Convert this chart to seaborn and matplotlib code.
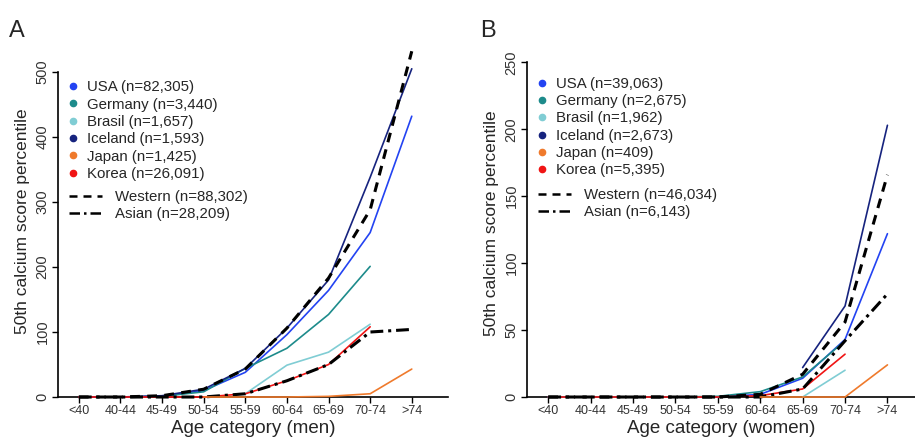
"""Median calcium score by age category, men vs women, by country."""

import numpy as np
import pandas as pd
import matplotlib
matplotlib.use("Agg")
import matplotlib.pyplot as plt
from matplotlib.lines import Line2D
import seaborn as sns

ages = ["<40", "40-44", "45-49", "50-54", "55-59", "60-64", "65-69", "70-74", ">74"]
nan = np.nan

# Panel A: men
men_usa = [0, 0, 1, 10, 38, 96, 164, 253, 432]
men_germany = [0, 0, 1, 8, 44, 75, 127, 201, nan]
men_brasil = [nan, nan, nan, nan, 5, 49, 69, 112, nan]
men_iceland = [0, 0, 2, 12, 44, 106, 180, 338, 505]
men_japan = [nan, nan, nan, 0, 0, 0, 1, 5, 43]
men_korea = [0, 0, 0, 0, 5, 25, 50, 108, nan]
men_western = [0, 0, 2, 12, 43, 106, 183, 288, 532]
men_asian = [0, 0, 0, 0, 5, 25, 50, 100, 104]
men_n = {"USA": "82,305", "Germany": "3,440", "Brasil": "1,657", "Iceland": "1,593",
         "Japan": "1,425", "Korea": "26,091", "Western": "88,302", "Asian": "28,209"}

# Panel B: women
women_usa = [0, 0, 0, 0, 0, 2, 14, 43, 122]
women_germany = [0, 0, 0, 0, 0.5, 4, 15, 42, nan]
women_brasil = [nan, nan, nan, nan, nan, nan, 0, 20, nan]
women_iceland = [nan, nan, nan, nan, nan, nan, 22, 68, 203]
women_japan = [nan, nan, nan, nan, nan, 0, 0, 0, 24]
women_korea = [0, 0, 0, 0, 0, 1, 6, 32, nan]
women_western = [0, 0, 0, 0, 0, 2, 17, 56, 166]
women_asian = [0, 0, 0, 0, 0, 0, 6, 42, 77]
women_n = {"USA": "39,063", "Germany": "2,675", "Brasil": "1,962", "Iceland": "2,673",
           "Japan": "409", "Korea": "5,395", "Western": "46,034", "Asian": "6,143"}

countries = ["USA", "Germany", "Brasil", "Iceland", "Japan", "Korea"]
colors = {"USA": "#2343f2", "Germany": "#1d8b8b", "Brasil": "#80cdd4",
          "Iceland": "#16237e", "Japan": "#ef7a2c", "Korea": "#f01414"}
groups = {"Western": (0, (3.2, 2.4)), "Asian": (0, (4.2, 1.6, 1.0, 1.6))}
# Japan sits on top of the zero lines in the original
draw_order = ["USA", "Germany", "Brasil", "Iceland", "Korea", "Western", "Asian", "Japan"]

sns.set_style("white")
plt.rcParams["font.family"] = ["Liberation Sans", "DejaVu Sans"]

fig = plt.figure(figsize=(9.15, 4.4), dpi=100)
ax_a = fig.add_axes([0.0634, 0.0977, 0.4262, 0.7977])
ax_b = fig.add_axes([0.576, 0.0977, 0.424, 0.791])


def draw_panel(ax, series, n, ymax, ytop, yticks, xmax, xlabel, letter, letter_x,
               leg_y1, leg_y2):
    x = np.arange(len(ages))
    for name in draw_order:
        df = pd.DataFrame({"age": x, "value": series[name]}).dropna()
        if name in colors:
            sns.lineplot(data=df, x="age", y="value", ax=ax, color=colors[name],
                         linewidth=1.2, sort=False, legend=False,
                         clip_on=False, zorder=3)
        else:
            sns.lineplot(data=df, x="age", y="value", ax=ax, color="black",
                         linewidth=2.2, linestyle=groups[name], sort=False,
                         legend=False, clip_on=False, zorder=3)

    ax.set_xlim(-0.5, xmax)
    ax.set_ylim(0, ytop)
    ax.set_xticks(x)
    ax.set_xticklabels(ages, fontsize=9, color="#333333")
    ax.set_yticks(yticks)
    ax.set_yticklabels([str(t) for t in yticks], fontsize=10.5, color="#333333",
                       rotation=90, va="center")
    for side in ["top", "right"]:
        ax.spines[side].set_visible(False)
    ax.spines["left"].set_bounds(0, ymax)
    for side in ["left", "bottom"]:
        ax.spines[side].set_linewidth(1.2)
        ax.spines[side].set_color("black")
    ax.tick_params(axis="both", which="major", length=4, width=1, color="black",
                   bottom=True, left=True, pad=2)
    ax.set_xlabel(xlabel, fontsize=13.5, labelpad=2)
    ax.set_ylabel("50th calcium score percentile", fontsize=12.5, labelpad=4)
    fig.text(letter_x, 1 - 37 / 440, letter, fontsize=17, ha="left", va="baseline")

    dot_handles = [Line2D([], [], marker="o", linestyle="none", markersize=4.5,
                          color=colors[c]) for c in countries]
    leg1 = ax.legend(dot_handles, [f"{c} (n={n[c]})" for c in countries],
                     loc="upper left", bbox_to_anchor=(0.0, leg_y1), frameon=False,
                     fontsize=10.8, handlelength=0.6, handletextpad=0.6,
                     labelspacing=0.22, borderaxespad=0.3)
    ax.add_artist(leg1)
    line_handles = [Line2D([], [], color="black", linewidth=1.8, linestyle=groups[g])
                    for g in ["Western", "Asian"]]
    ax.legend(line_handles, [f"{g} (n={n[g]})" for g in ["Western", "Asian"]],
              loc="upper left", bbox_to_anchor=(0.0, leg_y2), frameon=False,
              fontsize=10.8, handlelength=2.2, handletextpad=0.9,
              labelspacing=0.22, borderaxespad=0.3)


men = {"USA": men_usa, "Germany": men_germany, "Brasil": men_brasil,
       "Iceland": men_iceland, "Japan": men_japan, "Korea": men_korea,
       "Western": men_western, "Asian": men_asian}
women = {"USA": women_usa, "Germany": women_germany, "Brasil": women_brasil,
         "Iceland": women_iceland, "Japan": women_japan, "Korea": women_korea,
         "Western": women_western, "Asian": women_asian}

draw_panel(ax_a, men, men_n, 500, 540, [0, 100, 200, 300, 400, 500], 8.87,
           "Age category (men)", "A", 0.010, 0.932, 0.62)
draw_panel(ax_b, women, women_n, 250, 260, [0, 50, 100, 150, 200, 250], 8.65,
           "Age category (women)", "B", 0.525, 0.95, 0.631)

fig.savefig("out.png", dpi=100)
